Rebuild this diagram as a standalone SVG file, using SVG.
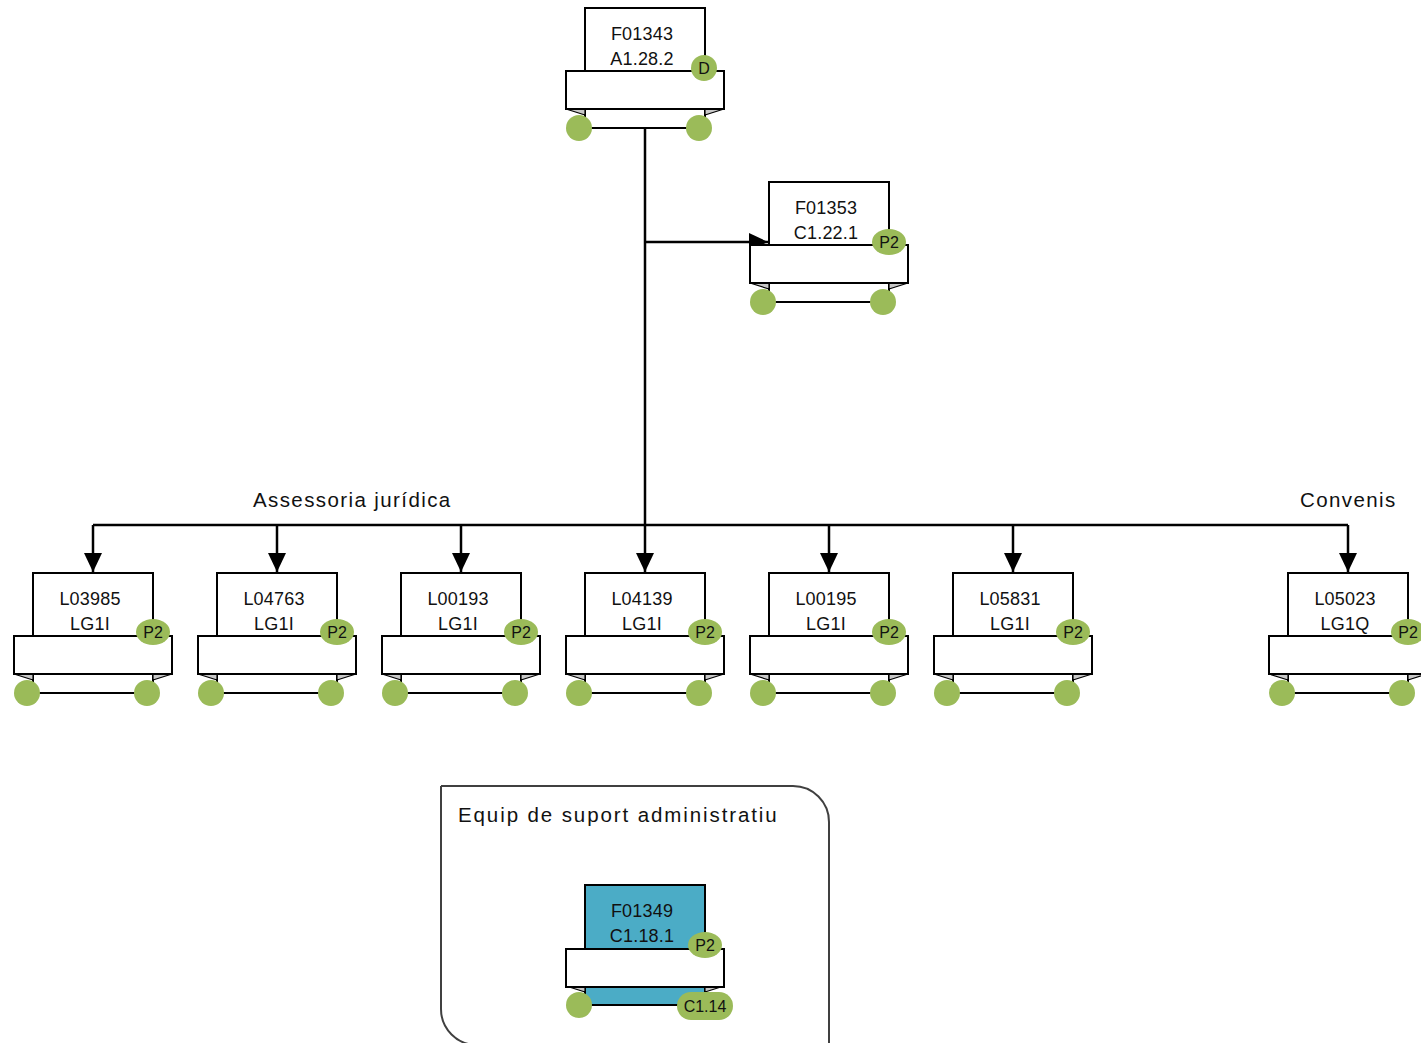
<svg xmlns="http://www.w3.org/2000/svg" width="1421" height="1043" viewBox="0 0 1421 1043">
<defs>
<style>
.back{fill:#fff;stroke:#000;stroke-width:2}
.teal{fill:#4BACC6;stroke:#000;stroke-width:2}
.fold{fill:#c8c8c8;stroke:#000;stroke-width:1.2}
.banner{fill:#fff;stroke:#000;stroke-width:2}
.dot{fill:#9BBB59}
.t{font-family:"Liberation Sans",Arial,sans-serif;font-size:18px;letter-spacing:0.2px;fill:#111;text-anchor:middle}
.s{font-family:"Liberation Sans",Arial,sans-serif;font-size:16px;fill:#111;text-anchor:middle}
.lbl{font-family:"Liberation Sans",Arial,sans-serif;font-size:20.5px;letter-spacing:1.4px;fill:#111}
.conn{fill:none;stroke:#000;stroke-width:2.5}
</style>
<marker id="arr" markerUnits="userSpaceOnUse" markerWidth="20" markerHeight="20" refX="19" refY="9" orient="auto">
<path d="M0,0 L19,9 L0,18 Z" fill="#000"/>
</marker>
<g id="shape">
<rect class="back" x="-60" y="0" width="120" height="120"/>
<path class="fold" d="M-79,101 L-60,101 L-60,107 Z M79,101 L60,101 L60,107 Z"/>
<rect class="banner" x="-79" y="63" width="158" height="38"/>
<circle class="dot" cx="-66" cy="120" r="13"/>
<circle class="dot" cx="54" cy="120" r="13"/>
</g>
</defs>

<g id="connectors">
<path class="conn" d="M645,128 V525"/>
<path class="conn" d="M645,242 H768" marker-end="url(#arr)"/>
<path class="conn" d="M93,525 H1348"/>
<path class="conn" d="M93,525 V572" marker-end="url(#arr)"/>
<path class="conn" d="M277,525 V572" marker-end="url(#arr)"/>
<path class="conn" d="M461,525 V572" marker-end="url(#arr)"/>
<path class="conn" d="M645,525 V572" marker-end="url(#arr)"/>
<path class="conn" d="M829,525 V572" marker-end="url(#arr)"/>
<path class="conn" d="M1013,525 V572" marker-end="url(#arr)"/>
<path class="conn" d="M1348,525 V572" marker-end="url(#arr)"/>
</g>

<g id="labels">
<text class="lbl" x="253" y="507">Assessoria jurídica</text>
<text class="lbl" x="1300" y="507">Convenis</text>
</g>

<g id="group-equip">
<path d="M441,786 H793 A36,36 0 0 1 829,822 V1060 M441,786 V1009 A36,36 0 0 0 477,1045" fill="none" stroke="#404040" stroke-width="2"/>
<text class="lbl" x="458" y="822" style="letter-spacing:1.9px">Equip de suport administratiu</text>
</g>

<g id="node-F01343" transform="translate(645,8)">
<use href="#shape"/>
<text class="t" x="-3" y="32">F01343</text>
<text class="t" x="-3" y="57">A1.28.2</text>
<circle class="dot" cx="59" cy="60" r="13"/>
<text class="s" x="59" y="66">D</text>
</g>

<g id="node-F01353" transform="translate(829,182)">
<use href="#shape"/>
<text class="t" x="-3" y="32">F01353</text>
<text class="t" x="-3" y="57">C1.22.1</text>
<ellipse class="dot" cx="60" cy="60" rx="17" ry="13"/>
<text class="s" x="60" y="66">P2</text>
</g>

<g id="node-L03985" transform="translate(93,573)">
<use href="#shape"/>
<text class="t" x="-3" y="32">L03985</text>
<text class="t" x="-3" y="57">LG1I</text>
<ellipse class="dot" cx="60" cy="59" rx="17" ry="13"/>
<text class="s" x="60" y="65">P2</text>
</g>

<g id="node-L04763" transform="translate(277,573)">
<use href="#shape"/>
<text class="t" x="-3" y="32">L04763</text>
<text class="t" x="-3" y="57">LG1I</text>
<ellipse class="dot" cx="60" cy="59" rx="17" ry="13"/>
<text class="s" x="60" y="65">P2</text>
</g>

<g id="node-L00193" transform="translate(461,573)">
<use href="#shape"/>
<text class="t" x="-3" y="32">L00193</text>
<text class="t" x="-3" y="57">LG1I</text>
<ellipse class="dot" cx="60" cy="59" rx="17" ry="13"/>
<text class="s" x="60" y="65">P2</text>
</g>

<g id="node-L04139" transform="translate(645,573)">
<use href="#shape"/>
<text class="t" x="-3" y="32">L04139</text>
<text class="t" x="-3" y="57">LG1I</text>
<ellipse class="dot" cx="60" cy="59" rx="17" ry="13"/>
<text class="s" x="60" y="65">P2</text>
</g>

<g id="node-L00195" transform="translate(829,573)">
<use href="#shape"/>
<text class="t" x="-3" y="32">L00195</text>
<text class="t" x="-3" y="57">LG1I</text>
<ellipse class="dot" cx="60" cy="59" rx="17" ry="13"/>
<text class="s" x="60" y="65">P2</text>
</g>

<g id="node-L05831" transform="translate(1013,573)">
<use href="#shape"/>
<text class="t" x="-3" y="32">L05831</text>
<text class="t" x="-3" y="57">LG1I</text>
<ellipse class="dot" cx="60" cy="59" rx="17" ry="13"/>
<text class="s" x="60" y="65">P2</text>
</g>

<g id="node-L05023" transform="translate(1348,573)">
<use href="#shape"/>
<text class="t" x="-3" y="32">L05023</text>
<text class="t" x="-3" y="57">LG1Q</text>
<ellipse class="dot" cx="60" cy="59" rx="17" ry="13"/>
<text class="s" x="60" y="65">P2</text>
</g>

<g id="node-F01349" transform="translate(645,885)">
<rect class="teal" x="-60" y="0" width="120" height="120"/>
<path class="fold" d="M-79,101 L-60,101 L-60,107 Z M79,101 L60,101 L60,107 Z"/>
<rect class="banner" x="-79" y="64" width="158" height="38"/>
<text class="t" x="-3" y="32">F01349</text>
<text class="t" x="-3" y="57">C1.18.1</text>
<ellipse class="dot" cx="60" cy="60" rx="17" ry="13"/>
<text class="s" x="60" y="66">P2</text>
<circle class="dot" cx="-66" cy="120" r="13"/>
<rect class="dot" x="32" y="107" width="56" height="28" rx="14"/>
<text class="s" x="60" y="127">C1.14</text>
</g>
</svg>
